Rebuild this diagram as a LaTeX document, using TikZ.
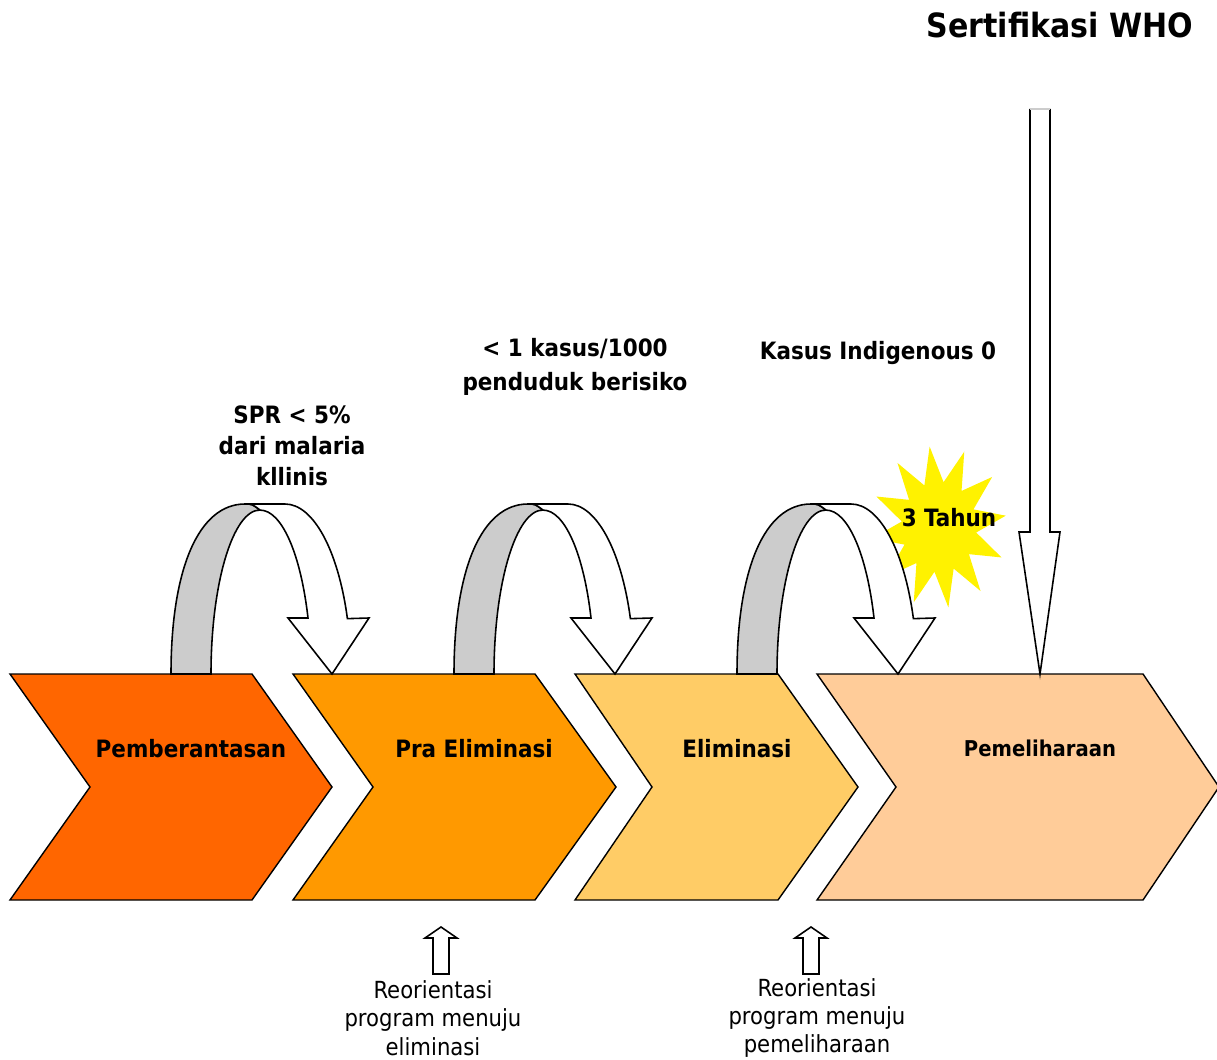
\documentclass[tikz,border=0pt]{standalone}
\usepackage{fontspec}
\setmainfont{DejaVu Sans Condensed}
\usetikzlibrary{shapes.geometric}

\definecolor{stageA}{HTML}{FF6600}
\definecolor{stageB}{HTML}{FF9900}
\definecolor{stageC}{HTML}{FFCC66}
\definecolor{stageD}{HTML}{FFCC99}
\definecolor{backband}{HTML}{CCCCCC}

\begin{document}
\begin{tikzpicture}[x=0.02cm, y=-0.02cm]

\tikzstyle{chevron} = [draw=black, line width=0.8pt, line join=miter]
\tikzstyle{outline} = [draw=black, line width=0.9pt, line join=miter]
\tikzstyle{boldtxt} = [font=\bfseries\fontsize{13.6}{17.6}\selectfont, align=center, inner sep=0pt]
\tikzstyle{plaintxt} = [font=\fontsize{13.4}{16.2}\selectfont, align=center, inner sep=0pt]

\useasboundingbox (0,0) rectangle (1217,1060);

% tahapan
\filldraw [chevron, fill=stageA] (10,674) -- (252,674) -- (332,787) -- (252,900) -- (10,900) -- (90,787) -- cycle;
\filldraw [chevron, fill=stageB] (293,674) -- (535,674) -- (616,787) -- (535,900) -- (293,900) -- (373,787) -- cycle;
\filldraw [chevron, fill=stageC] (575,674) -- (778,674) -- (858,787) -- (778,900) -- (575,900) -- (652,787) -- cycle;
\filldraw [chevron, fill=stageD] (817,674) -- (1143,674) -- (1219,787) -- (1143,900) -- (817,900) -- (896,787) -- cycle;

\node (pemberantasan) [boldtxt, anchor=base] at (191,757) {Pemberantasan};
\node (praelim) [boldtxt, anchor=base] at (474,757) {Pra Eliminasi};
\node (elim) [boldtxt, anchor=base] at (737,757) {Eliminasi};
\node (pemeliharaan) [boldtxt, anchor=base, font=\bfseries\fontsize{12.4}{15}\selectfont] at (1040,756) {Pemeliharaan};

% ledakan 3 tahun
\node (burst) [star, star points=12, star point ratio=1.8, minimum size=3.25cm, inner sep=0pt, fill=yellow, xscale=0.83, rotate=8] at (939,527) {};
\node (tahun) [boldtxt, anchor=base] at (949,527) {3 Tahun};

% panah lengkung
\foreach \dx in {0,283,566} {
  \filldraw [outline, fill=backband, shift={(\dx,0)}] (171,674) .. controls (171,568) and (199,504) .. (245,504)
    .. controls (252,504) .. (260,510) arc[start angle=270, end angle=180, x radius=49, y radius=164] -- cycle;
  \filldraw [outline, fill=white, shift={(\dx,0)}] (245,504) -- (285,504) arc[start angle=270, end angle=341, x radius=66, y radius=170]
    -- (369,618) -- (332,674) -- (288,618) -- (308,618) arc[start angle=340, end angle=270, x radius=51, y radius=164]
    .. controls (252,504) .. (245,504) -- cycle;
}

\node (spr) [boldtxt, font=\bfseries\fontsize{13.6}{17.6}\selectfont] at (292,446) {SPR < 5\%\\dari malaria\\kllinis};
\node (kasus) [boldtxt, font=\bfseries\fontsize{13.6}{19.3}\selectfont] at (575,367) {< 1 kasus/1000\\penduduk berisiko};
\node (indigenous) [boldtxt, anchor=base] at (878,360) {Kasus Indigenous 0};

% sertifikasi
\node (who) [boldtxt, anchor=base, font=\bfseries\fontsize{19}{22}\selectfont] at (1060,38) {Sertifikasi WHO};
\filldraw [outline, fill=white] (1030,109) -- (1030,532) -- (1019,532) -- (1040,674) -- (1060,532) -- (1050,532) -- (1050,109);
\draw [backband, line width=0.9pt] (1030,109) -- (1050,109);

% reorientasi
\filldraw [outline, fill=white] (433,974) -- (433,938) -- (425,938) -- (441,927) -- (457,938) -- (449,938) -- (449,974) -- cycle;
\filldraw [outline, fill=white] (803,974) -- (803,938) -- (795,938) -- (811,927) -- (827,938) -- (819,938) -- (819,974) -- cycle;
\node (reo1) [plaintxt] at (433,1018) {Reorientasi\\program menuju\\eliminasi};
\node (reo2) [plaintxt] at (817,1018) {Reorientasi\\program menuju\\pemeliharaan};

\end{tikzpicture}
\end{document}
